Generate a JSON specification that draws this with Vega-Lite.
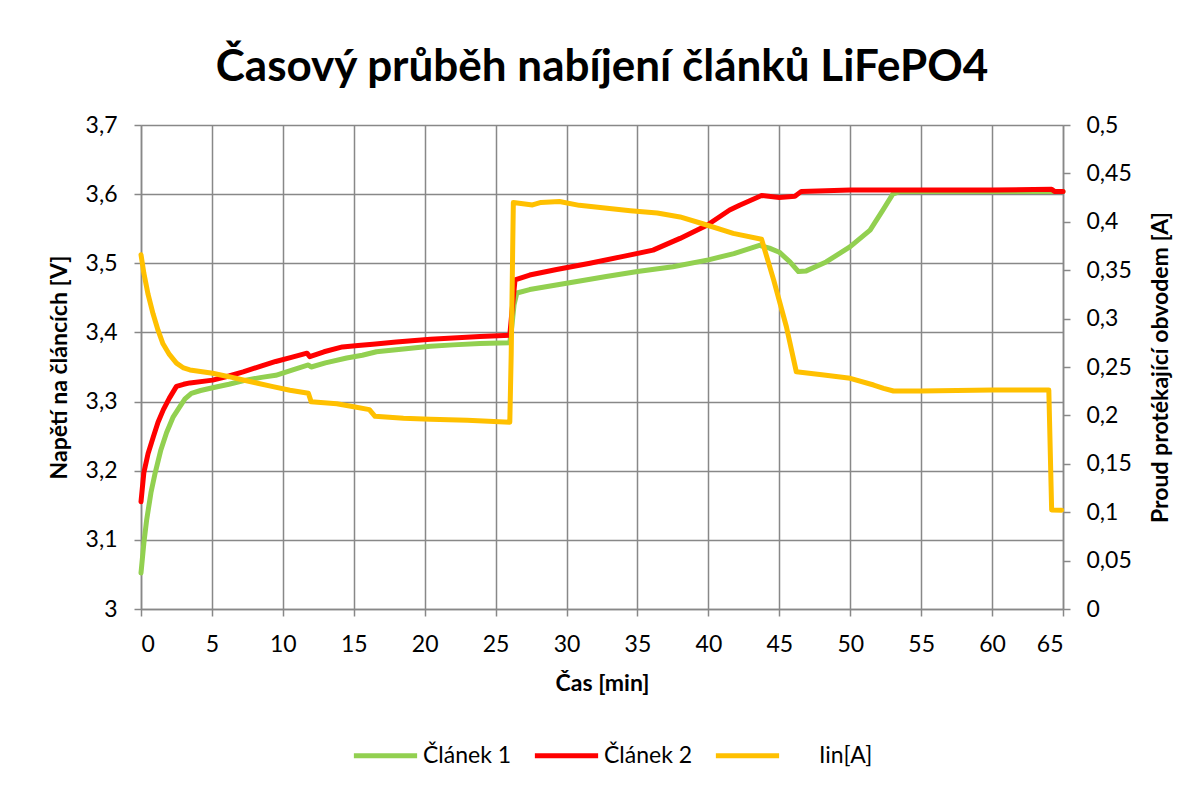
{
  "$schema": "https://vega.github.io/schema/vega-lite/v6.json",
  "width": 922,
  "height": 484,
  "autosize": "none",
  "padding": {"left": 141, "top": 125, "right": 133, "bottom": 182},
  "background": "white",
  "title": {
    "text": "Časový průběh nabíjení článků LiFePO4",
    "font": "Lato",
    "fontSize": 44,
    "fontWeight": "bold",
    "color": "black",
    "anchor": "middle",
    "offset": 24
  },
  "config": {
    "view": {"stroke": null},
    "axis": {
      "labelFont": "Lato",
      "labelFontSize": 23,
      "labelColor": "black",
      "titleFont": "Lato",
      "titleFontSize": 23,
      "titleFontWeight": "bold",
      "titleColor": "black",
      "domainColor": "#888888",
      "domainWidth": 1.5,
      "tickColor": "#888888",
      "tickWidth": 1.5,
      "tickSize": 7,
      "gridColor": "#888888",
      "gridWidth": 1.5,
      "gridOpacity": 1
    }
  },
  "datasets": {
    "volt": [
      {"t": 0, "val": 3.052, "series": "Článek 1"},
      {"t": 0.2, "val": 3.095, "series": "Článek 1"},
      {"t": 0.4, "val": 3.129, "series": "Článek 1"},
      {"t": 0.7, "val": 3.168, "series": "Článek 1"},
      {"t": 1.0, "val": 3.197, "series": "Článek 1"},
      {"t": 1.4, "val": 3.23, "series": "Článek 1"},
      {"t": 1.8, "val": 3.255, "series": "Článek 1"},
      {"t": 2.25, "val": 3.277, "series": "Článek 1"},
      {"t": 2.75, "val": 3.293, "series": "Článek 1"},
      {"t": 3.1, "val": 3.304, "series": "Článek 1"},
      {"t": 3.55, "val": 3.312, "series": "Článek 1"},
      {"t": 4.2, "val": 3.316, "series": "Článek 1"},
      {"t": 5.05, "val": 3.32, "series": "Článek 1"},
      {"t": 6.2, "val": 3.325, "series": "Článek 1"},
      {"t": 7.4, "val": 3.331, "series": "Článek 1"},
      {"t": 8.5, "val": 3.335, "series": "Článek 1"},
      {"t": 9.5, "val": 3.338, "series": "Článek 1"},
      {"t": 10.7, "val": 3.346, "series": "Článek 1"},
      {"t": 11.8, "val": 3.353, "series": "Článek 1"},
      {"t": 12.0, "val": 3.35, "series": "Článek 1"},
      {"t": 13.0, "val": 3.356, "series": "Článek 1"},
      {"t": 14.5, "val": 3.363, "series": "Článek 1"},
      {"t": 15.6, "val": 3.367, "series": "Článek 1"},
      {"t": 16.6, "val": 3.372, "series": "Článek 1"},
      {"t": 18.5, "val": 3.376, "series": "Článek 1"},
      {"t": 20.4, "val": 3.38, "series": "Článek 1"},
      {"t": 22.0, "val": 3.382, "series": "Článek 1"},
      {"t": 23.9, "val": 3.384, "series": "Článek 1"},
      {"t": 26.0, "val": 3.385, "series": "Článek 1"},
      {"t": 26.15, "val": 3.41, "series": "Článek 1"},
      {"t": 26.3, "val": 3.44, "series": "Článek 1"},
      {"t": 26.5, "val": 3.457, "series": "Článek 1"},
      {"t": 27.4, "val": 3.462, "series": "Článek 1"},
      {"t": 30, "val": 3.471, "series": "Článek 1"},
      {"t": 32.8, "val": 3.481, "series": "Článek 1"},
      {"t": 35, "val": 3.488, "series": "Článek 1"},
      {"t": 37.5, "val": 3.495, "series": "Článek 1"},
      {"t": 40, "val": 3.505, "series": "Článek 1"},
      {"t": 41.8, "val": 3.514, "series": "Článek 1"},
      {"t": 43.6, "val": 3.526, "series": "Článek 1"},
      {"t": 44.3, "val": 3.522, "series": "Článek 1"},
      {"t": 45.0, "val": 3.516, "series": "Článek 1"},
      {"t": 45.75, "val": 3.502, "series": "Článek 1"},
      {"t": 46.35, "val": 3.488, "series": "Článek 1"},
      {"t": 46.9, "val": 3.489, "series": "Článek 1"},
      {"t": 48.3, "val": 3.502, "series": "Článek 1"},
      {"t": 50, "val": 3.524, "series": "Článek 1"},
      {"t": 51.4, "val": 3.548, "series": "Článek 1"},
      {"t": 52.3, "val": 3.577, "series": "Článek 1"},
      {"t": 53.0, "val": 3.6, "series": "Článek 1"},
      {"t": 53.5, "val": 3.604, "series": "Článek 1"},
      {"t": 65, "val": 3.604, "series": "Článek 1"},
      {"t": 0, "val": 3.155, "series": "Článek 2"},
      {"t": 0.2, "val": 3.197, "series": "Článek 2"},
      {"t": 0.5, "val": 3.225, "series": "Článek 2"},
      {"t": 0.87, "val": 3.249, "series": "Článek 2"},
      {"t": 1.2, "val": 3.27, "series": "Článek 2"},
      {"t": 1.57, "val": 3.288, "series": "Článek 2"},
      {"t": 2.0, "val": 3.305, "series": "Článek 2"},
      {"t": 2.5, "val": 3.322, "series": "Článek 2"},
      {"t": 3.0, "val": 3.325, "series": "Článek 2"},
      {"t": 3.45, "val": 3.327, "series": "Článek 2"},
      {"t": 5.05, "val": 3.331, "series": "Článek 2"},
      {"t": 6.2, "val": 3.337, "series": "Článek 2"},
      {"t": 7.2, "val": 3.343, "series": "Článek 2"},
      {"t": 8.4, "val": 3.351, "series": "Článek 2"},
      {"t": 9.5, "val": 3.358, "series": "Článek 2"},
      {"t": 10.6, "val": 3.364, "series": "Článek 2"},
      {"t": 11.7, "val": 3.37, "series": "Článek 2"},
      {"t": 11.9, "val": 3.365, "series": "Článek 2"},
      {"t": 12.9, "val": 3.372, "series": "Článek 2"},
      {"t": 14.2, "val": 3.379, "series": "Článek 2"},
      {"t": 15.3, "val": 3.381, "series": "Článek 2"},
      {"t": 16.35, "val": 3.383, "series": "Článek 2"},
      {"t": 18.0, "val": 3.386, "series": "Článek 2"},
      {"t": 20.4, "val": 3.39, "series": "Článek 2"},
      {"t": 23.9, "val": 3.394, "series": "Článek 2"},
      {"t": 26.0, "val": 3.396, "series": "Článek 2"},
      {"t": 26.15, "val": 3.43, "series": "Článek 2"},
      {"t": 26.37, "val": 3.476, "series": "Článek 2"},
      {"t": 27.4, "val": 3.483, "series": "Článek 2"},
      {"t": 29.3, "val": 3.491, "series": "Článek 2"},
      {"t": 31.65, "val": 3.5, "series": "Článek 2"},
      {"t": 34.0, "val": 3.51, "series": "Článek 2"},
      {"t": 36.1, "val": 3.519, "series": "Článek 2"},
      {"t": 38.0, "val": 3.536, "series": "Článek 2"},
      {"t": 39.9, "val": 3.555, "series": "Článek 2"},
      {"t": 41.5, "val": 3.577, "series": "Článek 2"},
      {"t": 42.2, "val": 3.584, "series": "Článek 2"},
      {"t": 43.75, "val": 3.598, "series": "Článek 2"},
      {"t": 45.0, "val": 3.595, "series": "Článek 2"},
      {"t": 46.1, "val": 3.597, "series": "Článek 2"},
      {"t": 46.55, "val": 3.604, "series": "Článek 2"},
      {"t": 50, "val": 3.606, "series": "Článek 2"},
      {"t": 55, "val": 3.606, "series": "Článek 2"},
      {"t": 60, "val": 3.606, "series": "Článek 2"},
      {"t": 64.2, "val": 3.607, "series": "Článek 2"},
      {"t": 64.4, "val": 3.604, "series": "Článek 2"},
      {"t": 65, "val": 3.604, "series": "Článek 2"}
    ],
    "curr": [
      {"t": 0, "val": 0.366, "series": "Iin[A]"},
      {"t": 0.2, "val": 0.347, "series": "Iin[A]"},
      {"t": 0.5, "val": 0.325, "series": "Iin[A]"},
      {"t": 0.85, "val": 0.305, "series": "Iin[A]"},
      {"t": 1.2, "val": 0.288, "series": "Iin[A]"},
      {"t": 1.55, "val": 0.274, "series": "Iin[A]"},
      {"t": 2.0, "val": 0.263, "series": "Iin[A]"},
      {"t": 2.5, "val": 0.254, "series": "Iin[A]"},
      {"t": 3.0, "val": 0.249, "series": "Iin[A]"},
      {"t": 3.45, "val": 0.247, "series": "Iin[A]"},
      {"t": 5.05, "val": 0.2435, "series": "Iin[A]"},
      {"t": 6.2, "val": 0.24, "series": "Iin[A]"},
      {"t": 7.2, "val": 0.2366, "series": "Iin[A]"},
      {"t": 8.3, "val": 0.233, "series": "Iin[A]"},
      {"t": 9.3, "val": 0.2297, "series": "Iin[A]"},
      {"t": 10.5, "val": 0.226, "series": "Iin[A]"},
      {"t": 11.8, "val": 0.2228, "series": "Iin[A]"},
      {"t": 12.0, "val": 0.214, "series": "Iin[A]"},
      {"t": 13.8, "val": 0.212, "series": "Iin[A]"},
      {"t": 15.0, "val": 0.209, "series": "Iin[A]"},
      {"t": 16.1, "val": 0.206, "series": "Iin[A]"},
      {"t": 16.5, "val": 0.199, "series": "Iin[A]"},
      {"t": 18.5, "val": 0.197, "series": "Iin[A]"},
      {"t": 20.4, "val": 0.196, "series": "Iin[A]"},
      {"t": 23.0, "val": 0.195, "series": "Iin[A]"},
      {"t": 26.0, "val": 0.193, "series": "Iin[A]"},
      {"t": 26.1, "val": 0.264, "series": "Iin[A]"},
      {"t": 26.25, "val": 0.42, "series": "Iin[A]"},
      {"t": 27.6, "val": 0.4174, "series": "Iin[A]"},
      {"t": 28.2, "val": 0.42, "series": "Iin[A]"},
      {"t": 29.5, "val": 0.421, "series": "Iin[A]"},
      {"t": 30.9, "val": 0.417, "series": "Iin[A]"},
      {"t": 34.5, "val": 0.4115, "series": "Iin[A]"},
      {"t": 36.4, "val": 0.409, "series": "Iin[A]"},
      {"t": 38.0, "val": 0.405, "series": "Iin[A]"},
      {"t": 39.6, "val": 0.398, "series": "Iin[A]"},
      {"t": 41.75, "val": 0.388, "series": "Iin[A]"},
      {"t": 43.75, "val": 0.382, "series": "Iin[A]"},
      {"t": 44.6, "val": 0.34, "series": "Iin[A]"},
      {"t": 45.5, "val": 0.2916, "series": "Iin[A]"},
      {"t": 46.2, "val": 0.245, "series": "Iin[A]"},
      {"t": 48, "val": 0.242, "series": "Iin[A]"},
      {"t": 50, "val": 0.2383, "series": "Iin[A]"},
      {"t": 51.65, "val": 0.2314, "series": "Iin[A]"},
      {"t": 52.35, "val": 0.228, "series": "Iin[A]"},
      {"t": 53.05, "val": 0.2252, "series": "Iin[A]"},
      {"t": 55, "val": 0.2252, "series": "Iin[A]"},
      {"t": 60, "val": 0.2262, "series": "Iin[A]"},
      {"t": 64.0, "val": 0.2262, "series": "Iin[A]"},
      {"t": 64.2, "val": 0.1023, "series": "Iin[A]"},
      {"t": 64.9, "val": 0.102, "series": "Iin[A]"}
    ]
  },
  "encoding": {
    "x": {
      "field": "t",
      "type": "quantitative",
      "scale": {"domain": [0, 65], "nice": false},
      "axis": {
        "title": "Čas [min]",
        "values": [0, 5, 10, 15, 20, 25, 30, 35, 40, 45, 50, 55, 60, 65],
        "labelPadding": 17,
        "titlePadding": 16
      }
    },
    "color": {
      "field": "series",
      "type": "nominal",
      "scale": {
        "domain": ["Článek 1", "Článek 2", "Iin[A]"],
        "range": ["#92D050", "#FF0000", "#FFC000"]
      },
      "legend": {
        "title": null,
        "orient": "none",
        "direction": "horizontal",
        "columns": 3,
        "legendX": 210,
        "legendY": 596,
        "symbolType": "stroke",
        "symbolSize": 4000,
        "symbolStrokeWidth": 5,
        "labelFont": "Lato",
        "labelFontSize": 23,
        "labelColor": "black",
        "labelOffset": 3,
        "columnPadding": 12,
        "labelExpr": "indexof(datum.label, 'Iin') >= 0 ? '\u2800\u2800' + datum.label : datum.label"
      }
    }
  },
  "layer": [
    {
      "data": {"name": "volt"},
      "mark": {"type": "line", "strokeWidth": 5, "strokeCap": "round", "strokeJoin": "round"},
      "encoding": {
        "y": {
          "field": "val",
          "type": "quantitative",
          "scale": {"domain": [3, 3.7], "nice": false, "zero": false},
          "axis": {
            "title": "Napětí na článcích [V]",
            "values": [3, 3.1, 3.2, 3.3, 3.4, 3.5, 3.6, 3.7],
            "labelExpr": "replace(format(datum.value, '.2~f'), '.', ',')",
            "labelPadding": 17,
            "titlePadding": 14
          }
        }
      }
    },
    {
      "data": {"name": "curr"},
      "mark": {"type": "line", "strokeWidth": 5, "strokeCap": "round", "strokeJoin": "round"},
      "encoding": {
        "y": {
          "field": "val",
          "type": "quantitative",
          "scale": {"domain": [0, 0.5], "nice": false},
          "axis": {
            "orient": "right",
            "grid": false,
            "title": "Proud protékající obvodem [A]",
            "titleAngle": -90,
            "titleBaseline": "top",
            "values": [0, 0.05, 0.1, 0.15, 0.2, 0.25, 0.3, 0.35, 0.4, 0.45, 0.5],
            "labelExpr": "replace(format(datum.value, '.2~f'), '.', ',')",
            "labelPadding": 16,
            "titlePadding": 18
          }
        }
      }
    }
  ],
  "resolve": {"scale": {"y": "independent"}}
}
